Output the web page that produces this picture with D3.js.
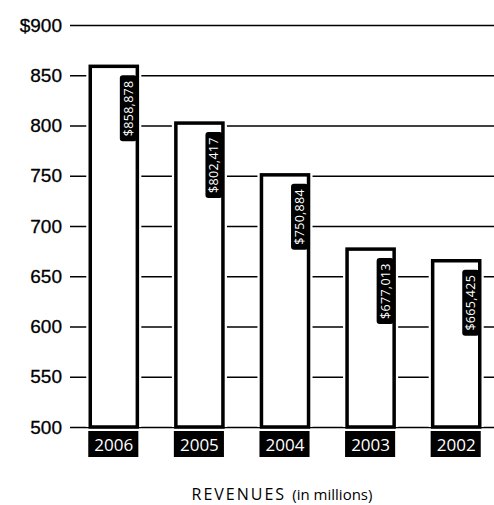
<!DOCTYPE html>
<html>
<head>
<meta charset="utf-8">
<script src="https://cdn.jsdelivr.net/npm/d3@7"></script>
<style>
  body { margin: 0; background: #fff; }
  svg { display: block; font-family: "Open Sans", "Noto Sans", sans-serif; }
</style>
</head>
<body>
<div class="chart"></div>
<script>
const years = ['2006', '2005', '2004', '2003', '2002'];
const revenues = [858.878, 802.417, 750.884, 677.013, 665.425];
const revenueLabels = ['$858,878', '$802,417', '$750,884', '$677,013', '$665,425'];
const yTicks = [500, 550, 600, 650, 700, 750, 800, 850, 900];

const width = 494;
const height = 505;

const svg = d3.select('.chart')
  .append('svg')
  .attr('width', width)
  .attr('height', height);

const x = d3.scaleBand()
  .domain(years)
  .range([71, 499])
  .paddingInner(0.45)
  .paddingOuter(0.225);

const y = d3.scaleLinear()
  .domain([500, 900])
  .range([427, 25]);

// gridlines + tick labels
const yAxis = d3.axisLeft(y)
  .tickValues(yTicks)
  .tickSize(-(width - 70))
  .tickPadding(8)
  .tickFormat(d => (d === 900 ? '$900' : d));

svg.append('g')
  .attr('transform', 'translate(70,0)')
  .call(yAxis)
  .call(g => g.select('.domain').remove())
  .call(g => g.selectAll('.tick line')
    .attr('stroke', '#000')
    .attr('stroke-width', 1.5))
  .call(g => g.selectAll('.tick text')
    .attr('font-size', 19)
    .attr('stroke', '#000')
    .attr('stroke-width', 0.3)
    .attr('fill', '#000'));

// bars (white halo breaks the gridlines)
const bars = svg.append('g')
  .selectAll('g')
  .data(years)
  .join('g');

bars.append('rect')
  .attr('x', d => x(d) - 4)
  .attr('y', (d, i) => y(revenues[i]) - 3)
  .attr('width', x.bandwidth() + 8)
  .attr('height', (d, i) => y(500) - y(revenues[i]) + 3)
  .attr('fill', '#fff');

bars.append('rect')
  .attr('x', d => x(d))
  .attr('y', (d, i) => y(revenues[i]))
  .attr('width', x.bandwidth())
  .attr('height', (d, i) => y(500) - y(revenues[i]))
  .attr('fill', '#fff')
  .attr('stroke', '#000')
  .attr('stroke-width', 3.5);

// rotated value labels, reading bottom to top
const valueLabel = bars.append('g')
  .attr('transform', (d, i) => `translate(${x(d) + x.bandwidth() - 9},${y(revenues[i]) + 75}) rotate(-90)`);

valueLabel.append('rect')
  .attr('x', 0)
  .attr('y', -8.5)
  .attr('width', 66)
  .attr('height', 17)
  .attr('rx', 3)
  .attr('fill', '#000');

valueLabel.append('text')
  .attr('x', 33)
  .attr('y', 4.5)
  .attr('text-anchor', 'middle')
  .attr('font-size', 12.5)
  .attr('letter-spacing', 0.3)
  .attr('fill', '#fff')
  .text((d, i) => revenueLabels[i]);

// year tags
bars.append('rect')
  .attr('x', d => x(d) - 2)
  .attr('y', 431)
  .attr('width', x.bandwidth() + 3)
  .attr('height', 26)
  .attr('fill', '#000');

bars.append('text')
  .attr('x', d => x(d) + x.bandwidth() / 2)
  .attr('y', 450.5)
  .attr('text-anchor', 'middle')
  .attr('font-size', 17)
  .attr('fill', '#fff')
  .text(d => d);

svg.append('text')
  .attr('x', 282)
  .attr('y', 500)
  .attr('text-anchor', 'middle')
  .attr('font-size', 15)
  .attr('fill', '#000')
  .call(t => t.append('tspan').attr('letter-spacing', 2).attr('font-size', 16).text('REVENUES '))
  .call(t => t.append('tspan').text('(in millions)'));
</script>
</body>
</html>
